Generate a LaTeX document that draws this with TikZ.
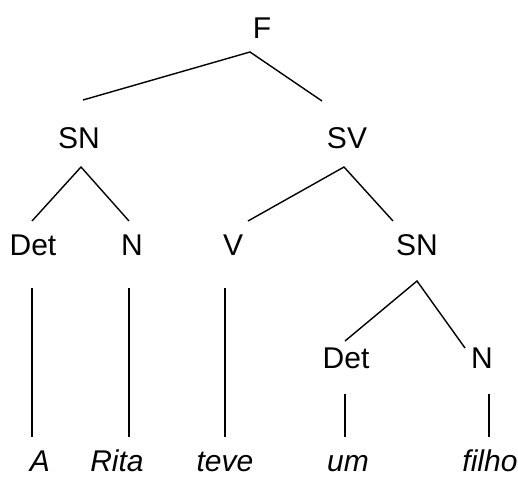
\documentclass[tikz,border=0pt]{standalone}
\usepackage{fontspec}
\setmainfont{Liberation Sans}
\begin{document}
\begin{tikzpicture}[x=1pt,y=-1pt,
  lab/.style={anchor=base,inner sep=0pt,font=\fontsize{30}{36}\selectfont},
  word/.style={lab,font=\fontsize{30}{36}\selectfont\itshape},
  edge/.style={line width=1.4pt,line cap=butt}]
\useasboundingbox (0,0) rectangle (518,479);
% labels
\node[lab] (F) at (262,38) {F};
\node[lab] (SNa) at (79,148) {SN};
\node[lab] (SV) at (347,148) {SV};
\node[lab] (Deta) at (33,255) {Det};
\node[lab] (Na) at (132,255) {N};
\node[lab] (V) at (233,255) {V};
\node[lab] (SNb) at (417,255) {SN};
\node[lab] (Detb) at (346,368) {Det};
\node[lab] (Nb) at (482,368) {N};
\node[word] (wA) at (40,471) {A};
\node[word] (wRita) at (117,471) {Rita};
\node[word] (wteve) at (225,471) {teve};
\node[word] (wum) at (348,471) {um};
\node[word] (wfilho) at (490,471) {filho};
% connector end points
\coordinate (F-b) at (250,52);
\coordinate (SNa-t) at (83,100);
\coordinate (SV-t) at (322,101);
\coordinate (SNa-b) at (81,167);
\coordinate (Deta-t) at (32,221);
\coordinate (Na-t) at (129,221);
\coordinate (SV-b) at (344,167);
\coordinate (V-t) at (248,221);
\coordinate (SNb-t) at (393,221);
\coordinate (SNb-b) at (417,281);
\coordinate (Detb-t) at (345,341);
\coordinate (Nb-t) at (465,348);
\coordinate (Deta-b) at (32,288);
\coordinate (wA-t) at (32,437);
\coordinate (Na-b) at (129,288);
\coordinate (wRita-t) at (129,437);
\coordinate (V-b) at (225,288);
\coordinate (wteve-t) at (225,437);
\coordinate (Detb-b) at (345,394);
\coordinate (wum-t) at (345,437);
\coordinate (Nb-b) at (489,394);
\coordinate (wfilho-t) at (489,437);
% connectors
\draw[edge] (SNa-t) -- (F-b) -- (SV-t);
\draw[edge] (Deta-t) -- (SNa-b) -- (Na-t);
\draw[edge] (V-t) -- (SV-b) -- (SNb-t);
\draw[edge] (Detb-t) -- (SNb-b) -- (Nb-t);
\draw[edge] (Deta-b) -- (wA-t);
\draw[edge] (Na-b) -- (wRita-t);
\draw[edge] (V-b) -- (wteve-t);
\draw[edge] (Detb-b) -- (wum-t);
\draw[edge] (Nb-b) -- (wfilho-t);
\end{tikzpicture}
\end{document}
